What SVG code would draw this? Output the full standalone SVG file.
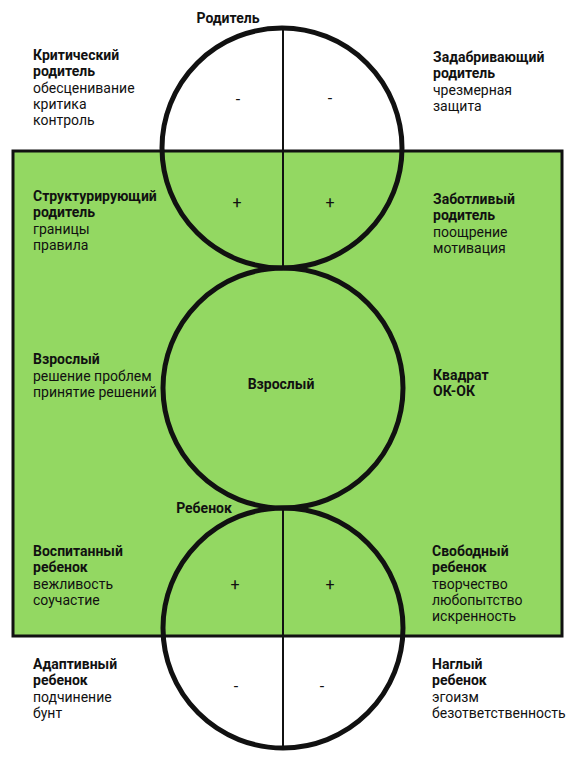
<svg xmlns="http://www.w3.org/2000/svg" width="570" height="762" viewBox="0 0 570 762">
<style>
text{font-family:Roboto,"Liberation Sans",sans-serif;font-size:14px;fill:#111}
.b{font-weight:bold}
.s{font-size:16px}
.c{fill:none;stroke:#111;stroke-width:5}
.v{stroke:#111;stroke-width:2}
</style>
<rect width="570" height="762" fill="#fff"/>
<rect id="square" x="13" y="151" width="549" height="485" fill="#93d862" stroke="#111" stroke-width="3"/>
<g id="connectors">
<line class="v" x1="283" y1="28" x2="283" y2="268"/>
<line class="v" x1="283" y1="508" x2="283" y2="750"/>
</g>
<g id="parent">
<circle class="c" cx="282" cy="148" r="120"/>
<text class="b" x="228" y="23" text-anchor="middle">Родитель</text>
<text class="s" x="238" y="105" text-anchor="middle">-</text>
<text class="s" x="330" y="104" text-anchor="middle">-</text>
<text class="s" x="237" y="208" text-anchor="middle">+</text>
<text class="s" x="330" y="208" text-anchor="middle">+</text>
</g>
<g id="adult">
<circle class="c" cx="283" cy="388" r="120"/>
<text class="b" x="281" y="389" text-anchor="middle">Взрослый</text>
</g>
<g id="child">
<circle class="c" cx="283" cy="628" r="120"/>
<text class="b" x="204" y="513" text-anchor="middle">Ребенок</text>
<text class="s" x="235" y="590" text-anchor="middle">+</text>
<text class="s" x="330" y="590" text-anchor="middle">+</text>
<text class="s" x="236" y="692" text-anchor="middle">-</text>
<text class="s" x="322" y="692" text-anchor="middle">-</text>
</g>
<g id="critical-parent">
<text x="33" y="60"><tspan class="b">Критический</tspan><tspan class="b" x="33" dy="16">родитель</tspan><tspan x="33" dy="16.5">обесценивание</tspan><tspan x="33" dy="16">критика</tspan><tspan x="33" dy="16">контроль</tspan></text>
</g>
<g id="indulging-parent">
<text x="433" y="62"><tspan class="b">Задабривающий</tspan><tspan class="b" x="433" dy="16">родитель</tspan><tspan x="433" dy="16.5">чрезмерная</tspan><tspan x="433" dy="16">защита</tspan></text>
</g>
<g id="structuring-parent">
<text x="33" y="201"><tspan class="b">Структурирующий</tspan><tspan class="b" x="33" dy="16">родитель</tspan><tspan x="33" dy="16.5">границы</tspan><tspan x="33" dy="16">правила</tspan></text>
</g>
<g id="caring-parent">
<text x="433" y="204"><tspan class="b">Заботливый</tspan><tspan class="b" x="433" dy="16">родитель</tspan><tspan x="433" dy="16.5">поощрение</tspan><tspan x="433" dy="16">мотивация</tspan></text>
</g>
<g id="adult-label">
<text x="33" y="364"><tspan class="b">Взрослый</tspan><tspan x="33" dy="16.5">решение проблем</tspan><tspan x="33" dy="16">принятие решений</tspan></text>
</g>
<g id="ok-square">
<text x="433" y="380"><tspan class="b">Квадрат</tspan><tspan class="b" x="433" dy="16">ОК-ОК</tspan></text>
</g>
<g id="polite-child">
<text x="33" y="556"><tspan class="b">Воспитанный</tspan><tspan class="b" x="33" dy="16">ребенок</tspan><tspan x="33" dy="16.5">вежливость</tspan><tspan x="33" dy="16">соучастие</tspan></text>
</g>
<g id="free-child">
<text x="432" y="556"><tspan class="b">Свободный</tspan><tspan class="b" x="432" dy="16">ребенок</tspan><tspan x="432" dy="16.5">творчество</tspan><tspan x="432" dy="16">любопытство</tspan><tspan x="432" dy="16">искренность</tspan></text>
</g>
<g id="adaptive-child">
<text x="33" y="669"><tspan class="b">Адаптивный</tspan><tspan class="b" x="33" dy="16">ребенок</tspan><tspan x="33" dy="16.5">подчинение</tspan><tspan x="33" dy="16">бунт</tspan></text>
</g>
<g id="rebellious-child">
<text x="432" y="669"><tspan class="b">Наглый</tspan><tspan class="b" x="432" dy="16">ребенок</tspan><tspan x="432" dy="16.5">эгоизм</tspan><tspan x="432" dy="16">безответственность</tspan></text>
</g>
</svg>
